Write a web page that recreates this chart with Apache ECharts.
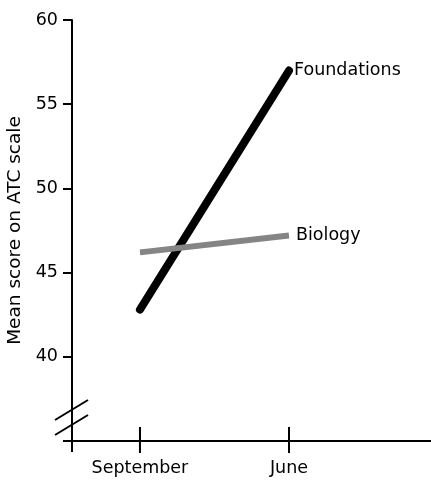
<!DOCTYPE html>
<html>
<head>
<meta charset="utf-8">
<script src="https://cdn.jsdelivr.net/npm/echarts@6/dist/echarts.min.js"></script>
<style>
html,body{margin:0;padding:0;background:#fff;}
#chart{width:431px;height:483px;}
</style>
</head>
<body>
<div id="chart"></div>
<script>
const categories = ['September', 'June'];
const seriesNames = ['Foundations', 'Biology'];
const foundations = [42.8, 57.0];
const biology = [46.2, 47.2];
const yTickValues = [40, 45, 50, 55, 60];
const xTickValues = [0, 1];
const yAxisTitle = 'Mean score on ATC scale';

const FONT = 'DejaVu Sans';
const chart = echarts.init(document.getElementById('chart'), null, {renderer: 'canvas'});

function pts(arr) { return arr.map((v, i) => [xTickValues[i], v]); }

const X_MIN = -0.456, X_MAX = 1.953, Y_MIN = 35, Y_MAX = 60;

const option = {
  animation: false,
  backgroundColor: '#ffffff',
  grid: {left: 72, right: 0, top: 20, bottom: 42, containLabel: false, outerBoundsMode: 'none'},
  xAxis: {
    type: 'value', min: X_MIN, max: X_MAX,
    axisLine: {show: true, onZero: false, lineStyle: {color: '#000', width: 2}},
    axisTick: {show: true, inside: true, customValues: xTickValues, length: 14, lineStyle: {color: '#000', width: 2}},
    axisLabel: {show: true, customValues: xTickValues, formatter: v => categories[Math.round(v)],
      color: '#000', fontFamily: FONT, fontSize: 17.5, margin: 18},
    splitLine: {show: false}
  },
  yAxis: {
    type: 'value', min: Y_MIN, max: Y_MAX,
    name: yAxisTitle, nameLocation: 'middle', nameGap: 47,
    nameTextStyle: {color: '#000', fontFamily: FONT, fontSize: 18.5},
    axisLine: {show: true, onZero: false, lineStyle: {color: '#000', width: 2}},
    axisTick: {show: true, customValues: yTickValues, length: 9, lineStyle: {color: '#000', width: 2}},
    axisLabel: {show: true, customValues: yTickValues, color: '#000', fontFamily: FONT, fontSize: 17.5, margin: 14},
    splitLine: {show: false}
  },
  series: [{
    name: seriesNames[0], type: 'line', data: pts(foundations),
    symbol: 'none', lineStyle: {color: '#000', width: 8, cap: 'round'},
    endLabel: {show: true, formatter: '{a}', color: '#000', fontFamily: FONT, fontSize: 17.5, distance: 5}
  }, {
    name: seriesNames[1], type: 'line', data: pts(biology),
    symbol: 'none', lineStyle: {color: '#858585', width: 6, cap: 'butt'},
    endLabel: {show: true, formatter: '{a}', color: '#000', fontFamily: FONT, fontSize: 17.5, distance: 7}
  }]
};
chart.setOption(option);

// axis decorations: full crossing ticks, stubs past the origin, axis-break marks
const origin = chart.convertToPixel({xAxisIndex: 0, yAxisIndex: 0}, [X_MIN, Y_MIN]);
const ox = origin[0], oy = origin[1];
const lineStyle = {stroke: '#000', lineWidth: 2};
const els = [];
xTickValues.forEach((v, i) => {
  const p = chart.convertToPixel({xAxisIndex: 0, yAxisIndex: 0}, [v, Y_MIN]);
  els.push({type: 'line', id: 'tick' + i, shape: {x1: p[0], y1: oy - 14, x2: p[0], y2: oy + 12},
    style: lineStyle, silent: true, z: 1000, zlevel: 1});
});
els.push({type: 'line', id: 'xstub', shape: {x1: ox - 9, y1: oy, x2: ox, y2: oy}, style: lineStyle, silent: true});
els.push({type: 'line', id: 'ystub', shape: {x1: ox, y1: oy, x2: ox, y2: oy + 11}, style: lineStyle, silent: true});
els.push({type: 'line', id: 'brk1', shape: {x1: ox - 17, y1: oy - 21, x2: ox + 16, y2: oy - 41}, style: lineStyle, silent: true});
els.push({type: 'line', id: 'brk2', shape: {x1: ox - 17, y1: oy - 6, x2: ox + 16, y2: oy - 26}, style: lineStyle, silent: true});
chart.setOption({graphic: {elements: els}});
</script>
</body>
</html>
